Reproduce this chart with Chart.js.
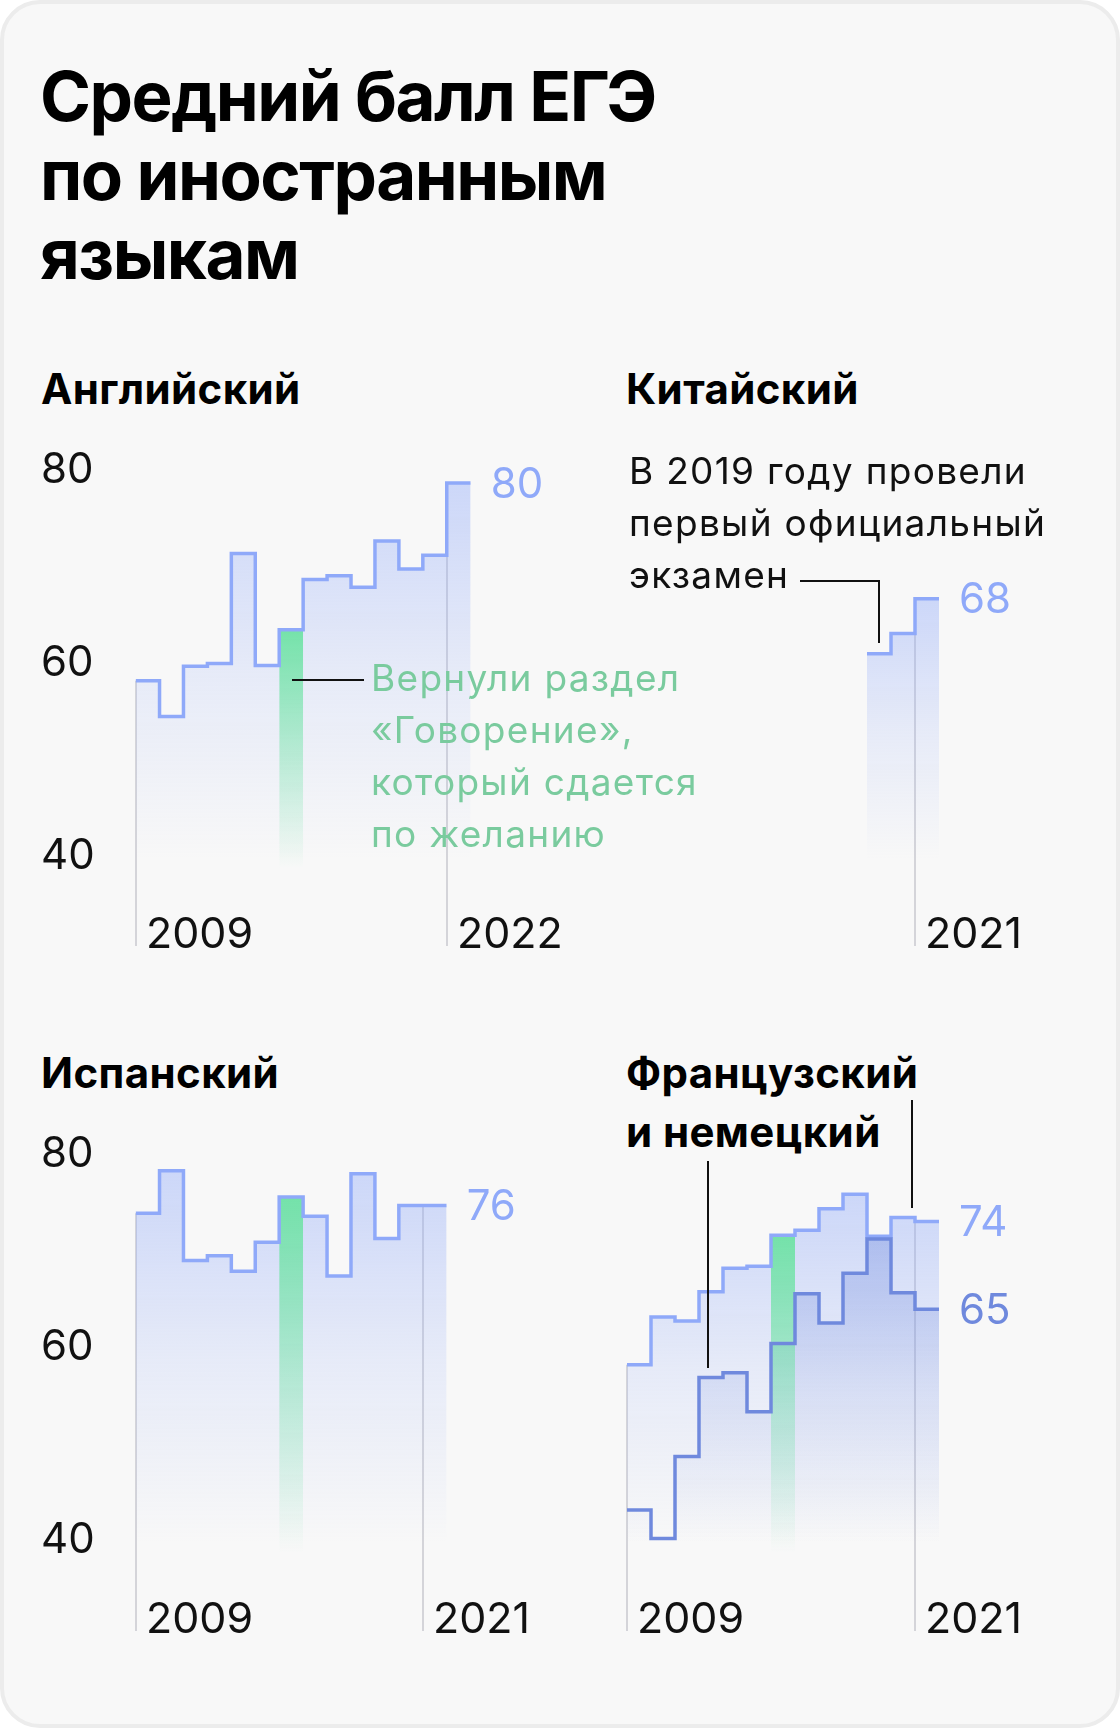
<!DOCTYPE html>
<html lang="ru">
<head>
<meta charset="utf-8">
<title>Средний балл ЕГЭ по иностранным языкам</title>
<script src="https://cdn.jsdelivr.net/npm/chart.js@4.4.1/dist/chart.umd.min.js"></script>
<style>
  html, body { margin: 0; padding: 0; background: #fff; }
  body { width: 1120px; height: 1728px; position: relative; overflow: hidden; font-family: Inter, "Noto Sans", sans-serif; color: #111; }
  .card { position: absolute; left: 0; top: 0; width: 1120px; height: 1728px; box-sizing: border-box; border: 4px solid #ececec; border-radius: 40px; background: #f8f8f8; }
  .txt { position: absolute; white-space: nowrap; }
  .title { font-weight: 700; font-size: 69px; line-height: 79px; letter-spacing: -1.5px; color: #000; }
  .head { font-weight: 700; font-size: 42px; line-height: 59px; letter-spacing: 0.4px; color: #000; }
  .note { font-weight: 400; font-size: 37px; line-height: 52px; letter-spacing: 1.3px; }
  .green { color: #7acb9e; }
  .rule { position: absolute; background: #111; }
  canvas { position: absolute; }
</style>
</head>
<body>
<div class="card"></div>

<div class="txt title" style="left:40px;top:57px">Средний балл ЕГЭ<br>по иностранным<br>языкам</div>

<div class="txt head" style="left:41px;top:359px">Английский</div>
<div class="txt head" style="left:626px;top:359px">Китайский</div>
<div class="txt head" style="left:41px;top:1043px">Испанский</div>
<div class="txt head" style="left:626px;top:1043px">Французский<br>и немецкий</div>

<canvas id="en" width="560" height="600" style="left:0;top:380px"></canvas>
<canvas id="cn" width="560" height="600" style="left:560px;top:380px"></canvas>
<canvas id="es" width="560" height="600" style="left:0;top:1070px"></canvas>
<canvas id="fr" width="560" height="600" style="left:560px;top:1070px"></canvas>

<div class="txt note green" style="left:371px;top:652px">Вернули раздел<br>«Говорение»,<br>который сдается<br>по желанию</div>
<div class="txt note" style="left:629px;top:445px">В 2019 году провели<br>первый официальный<br>экзамен</div>

<!-- connectors -->
<div class="rule" style="left:292px;top:679px;width:72px;height:2px"></div>
<div class="rule" style="left:800px;top:580px;width:80px;height:2px"></div>
<div class="rule" style="left:878px;top:580px;width:2px;height:63px"></div>
<div class="rule" style="left:911px;top:1100px;width:2px;height:108px"></div>
<div class="rule" style="left:707px;top:1161px;width:2px;height:207px"></div>

<script>
// data
const yearsEn = [2009, 2010, 2011, 2012, 2013, 2014, 2015, 2016, 2017, 2018, 2019, 2020, 2021, 2022];
const english = [59.5, 55.8, 61.0, 61.3, 72.7, 61.1, 64.8, 70.0, 70.4, 69.2, 74.0, 71.1, 72.5, 80.0];

const yearsCn = [2019, 2020, 2021];
const chinese = [62.3, 64.4, 68.0];

const years = [2009, 2010, 2011, 2012, 2013, 2014, 2015, 2016, 2017, 2018, 2019, 2020, 2021];
const spanish = [75.2, 79.6, 70.3, 70.8, 69.2, 72.2, 76.9, 74.9, 68.7, 79.3, 72.6, 76.0, 76.0];
const french = [59.3, 64.2, 63.8, 66.8, 69.2, 69.4, 72.6, 73.1, 75.3, 76.8, 72.5, 74.4, 74.0];
const german = [44.4, 41.5, 49.9, 58.0, 58.5, 54.5, 61.5, 66.6, 63.6, 68.7, 72.2, 66.7, 65.0];

const yTicks = [80, 60, 40];
const enTicks = [2009, 2022];
const cnTicks = [2021];
const esTicks = [2009, 2021];
const frTicks = [2009, 2021];

const speakingYear = 2015;

const LIGHT = '#8fa9f9';
const LIGHT_RGB = '143,169,249';
const DARK = '#6f89dd';
const DARK_RGB = '111,137,221';
const GREEN_RGB = '111,226,165';

// each value holds its year until the next one
const steps = (xs, vs) => xs.map((x, i) => ({ x: x, y: vs[i] }))
    .concat({ x: xs[xs.length - 1] + 1, y: vs[vs.length - 1] });

const speaking = (xs, vs) => {
    const v = vs[xs.indexOf(speakingYear)];
    return [{ x: speakingYear, y: v }, { x: speakingYear + 1, y: v }];
};

const fade = (rgb, vs, alpha) => {
    const top = Math.max(...vs);
    return (c) => {
        const chart = c.chart;
        if (!chart.chartArea) return 'transparent';
        const y = chart.scales.y;
        const g = chart.ctx.createLinearGradient(0, y.getPixelForValue(top), 0, y.getPixelForValue(41));
        g.addColorStop(0, 'rgba(' + rgb + ',' + alpha + ')');
        g.addColorStop(0.5, 'rgba(' + rgb + ',' + (alpha * 0.4) + ')');
        g.addColorStop(1, 'rgba(' + rgb + ',0)');
        return g;
    };
};

const greenFade = (xs, vs) => {
    const top = vs[xs.indexOf(speakingYear)];
    return (c) => {
        const chart = c.chart;
        if (!chart.chartArea) return 'transparent';
        const y = chart.scales.y;
        const g = chart.ctx.createLinearGradient(0, y.getPixelForValue(top), 0, y.getPixelForValue(40));
        g.addColorStop(0, 'rgba(' + GREEN_RGB + ',0.95)');
        g.addColorStop(0.5, 'rgba(' + GREEN_RGB + ',0.45)');
        g.addColorStop(1, 'rgba(' + GREEN_RGB + ',0)');
        return g;
    };
};

const fillSet = (xs, vs, rgb, alpha, order) => ({
    data: steps(xs, vs), stepped: 'before', fill: 'start',
    borderColor: 'transparent', borderWidth: 0, backgroundColor: fade(rgb, vs, alpha), order: order
});
const lineSet = (xs, vs, color, order) => ({
    data: steps(xs, vs), stepped: 'before', fill: false,
    borderColor: color, borderWidth: 3.5, order: order
});
const greenSet = (xs, vs, order) => ({
    data: speaking(xs, vs), stepped: 'before', fill: 'start',
    borderColor: 'transparent', borderWidth: 0, backgroundColor: greenFade(xs, vs), order: order
});

// grey year guides, year labels and end values
const guides = (o) => ({
    id: 'guides',
    beforeDatasetsDraw(chart) {
        const { ctx, chartArea, scales: { x, y } } = chart;
        ctx.save();
        ctx.strokeStyle = '#d4d4d9';
        ctx.lineWidth = 2;
        o.ticks.forEach((year) => {
            const i = o.years.indexOf(year);
            const top = i > 0 ? Math.min(o.values[i - 1], o.values[i]) : o.values[i];
            const px = Math.round(x.getPixelForValue(year));
            ctx.beginPath();
            ctx.moveTo(px, y.getPixelForValue(top));
            ctx.lineTo(px, chartArea.bottom);
            ctx.stroke();
        });
        ctx.restore();
    },
    afterDatasetsDraw(chart) {
        const { ctx, chartArea, scales: { x, y } } = chart;
        ctx.save();
        ctx.font = '43px Inter';
        ctx.fillStyle = '#111';
        ctx.textBaseline = 'alphabetic';
        o.ticks.forEach((year) => {
            ctx.fillText(String(year), Math.round(x.getPixelForValue(year)) + 10, chartArea.bottom + 2);
        });
        ctx.font = '42px Inter';
        ctx.textBaseline = 'middle';
        o.ends.forEach((e) => {
            const last = e.values[e.values.length - 1];
            ctx.fillStyle = e.color;
            ctx.fillText(String(Math.round(last)), x.getPixelForValue(o.years[o.years.length - 1] + 1) + 20, y.getPixelForValue(last) + 2);
        });
        ctx.restore();
    }
});

const yAxis = (min, max, shown) => shown ? {
    min: min, max: max,
    afterBuildTicks: (s) => { s.ticks = yTicks.map((v) => ({ value: v })); },
    afterFit: (s) => { s.width = 94.6; },
    grid: { display: false },
    border: { display: false },
    ticks: { color: '#111', font: { family: 'Inter', size: 42 }, padding: 0, crossAlign: 'far', labelOffset: -13 }
} : { min: min, max: max, display: false };

const makeChart = (id, datasets, xMax, y, padding, plugin) => new Chart(document.getElementById(id), {
    type: 'line',
    data: { datasets: datasets },
    options: {
        responsive: false,
        animation: false,
        events: [],
        layout: { padding: padding, autoPadding: false },
        elements: { point: { radius: 0 }, line: { tension: 0, borderJoinStyle: 'miter', borderCapStyle: 'butt' } },
        plugins: { legend: { display: false }, tooltip: { enabled: false } },
        scales: {
            x: { type: 'linear', min: 2009, max: xMax, display: false },
            y: y
        }
    },
    plugins: [plugin]
});

makeChart('en', [
    lineSet(yearsEn, english, LIGHT, 1),
    greenSet(yearsEn, english, 2),
    fillSet(yearsEn, english, LIGHT_RGB, 0.42, 3)
], 2023, yAxis(32.02, 86.528, true), { left: 41, top: 40, right: 89.3, bottom: 34 },
guides({ years: yearsEn, values: english, ticks: enTicks, ends: [{ values: english, color: LIGHT }] }));

makeChart('cn', [
    lineSet(yearsCn, chinese, LIGHT, 1),
    fillSet(yearsCn, chinese, LIGHT_RGB, 0.42, 2)
], 2022, yAxis(32.02, 86.528, false), { left: 67, top: 40, right: 181, bottom: 34 },
guides({ years: yearsCn, values: chinese, ticks: cnTicks, ends: [{ values: chinese, color: LIGHT }] }));

makeChart('es', [
    lineSet(years, spanish, LIGHT, 1),
    greenSet(years, spanish, 2),
    fillSet(years, spanish, LIGHT_RGB, 0.42, 3)
], 2022, yAxis(31.917, 85.907, true), { left: 41, top: 40, right: 113.3, bottom: 39 },
guides({ years: years, values: spanish, ticks: esTicks, ends: [{ values: spanish, color: LIGHT }] }));

makeChart('fr', [
    lineSet(years, german, DARK, 1),
    lineSet(years, french, LIGHT, 2),
    greenSet(years, french, 3),
    fillSet(years, german, DARK_RGB, 0.36, 4),
    fillSet(years, french, LIGHT_RGB, 0.42, 5)
], 2022, yAxis(32.0, 85.436, false), { left: 67, top: 40, right: 181, bottom: 39 },
guides({ years: years, values: french, ticks: frTicks, ends: [{ values: french, color: LIGHT }, { values: german, color: DARK }] }));
</script>
</body>
</html>
